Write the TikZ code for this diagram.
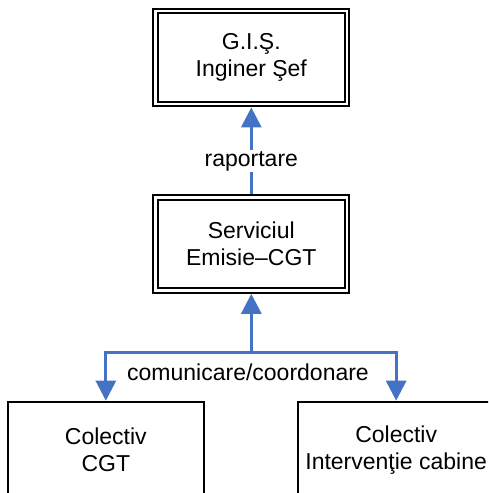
\documentclass[tikz,border=0pt]{standalone}
\usepackage{fontspec}
\setmainfont{Liberation Sans}
\usetikzlibrary{arrows.meta}
\definecolor{linkblue}{RGB}{68,114,196}

\begin{document}
\begin{tikzpicture}[x=1pt,y=-1pt,
    chief/.style={draw,double,line width=2pt,double distance=2.7pt,
        minimum width=191.3pt,minimum height=93pt,inner sep=0pt,outer sep=3.35pt,
        align=center,font=\fontsize{23}{27}\selectfont},
    team/.style={draw,line width=2pt,minimum width=195.7pt,minimum height=97pt,
        inner sep=0pt,align=center,font=\fontsize{23}{27}\selectfont},
    link/.style={linkblue,line width=3pt,-{Triangle[width=20pt,length=20pt]}},
    tag/.style={inner sep=1.5pt,font=\fontsize{23}{27}\selectfont}]
    \useasboundingbox (0,0) rectangle (488,493);
    \clip (0,0) rectangle (488,493);

    \node[chief] (gis) at (251.3,57.6) {G.I.Ş.\\ Inginer Şef};
    \node[chief] (emisie) at (251.3,244) {Serviciul\\ Emisie–CGT};
    \node[team] (cgt) at (105.85,450.2) {Colectiv\\ CGT};
    \node[team] (cabine) at (396.15,450.2) {Colectiv\\ Intervenţie cabine};
    \coordinate (split) at (251.3,352);

    \draw[link] (emisie.north) -- (gis.south);
    \node[tag,fill=white,anchor=base] (raport) at (251.3,166) {raportare};
    \draw[link] (split) -- (emisie.south);
    \draw[link] (split) -| (cgt.north);
    \draw[link] (split) -| (cabine.north);
    \node[tag,anchor=base] (comm) at (248,380) {comunicare/coordonare};
\end{tikzpicture}
\end{document}
